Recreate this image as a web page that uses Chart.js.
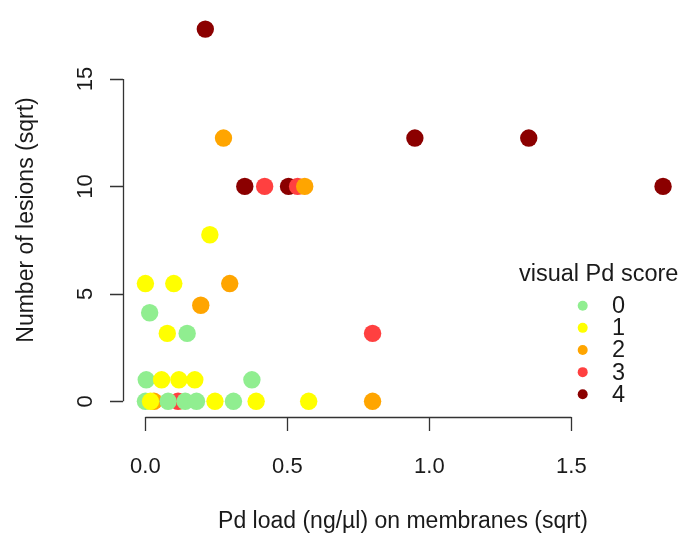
<!DOCTYPE html>
<html>
<head>
<meta charset="utf-8">
<script src="https://cdn.jsdelivr.net/npm/chart.js@4"></script>
<style>
  html, body { margin: 0; padding: 0; background: #fff; }
  #wrap { width: 682px; height: 538px; position: relative; }
</style>
</head>
<body>
<div id="wrap"><canvas id="c"></canvas></div>
<script>
// ---- data (row order = drawing order) ----
const pdLoad  = [0.03, 0.115, 0.0, 0.08, 0.14, 0.18, 0.31, 0.018, 0.245, 0.39, 0.575, 0.80,
                 0.003, 0.057, 0.118, 0.174, 0.375, 0.015, 0.147, 0.077,
                 0.0, 0.10, 0.297, 0.195, 0.227, 0.80,
                 0.35, 0.42, 0.504, 0.536, 0.561, 1.823,
                 0.275, 0.949, 1.35, 0.211];
const lesions = [0, 0, 0, 0, 0, 0, 0, 0, 0, 0, 0, 0,
                 1, 1, 1, 1, 1, 4.12, 3.16, 3.16,
                 5.48, 5.48, 5.48, 4.47, 7.75, 3.16,
                 10, 10, 10, 10, 10, 10,
                 12.25, 12.25, 12.25, 17.32];
const score   = [2, 3, 0, 0, 0, 0, 0, 1, 1, 1, 1, 2,
                 0, 1, 1, 1, 0, 0, 0, 1,
                 1, 1, 2, 2, 1, 3,
                 4, 3, 4, 3, 2, 4,
                 2, 4, 4, 4];
const scoreLabels = ['0', '1', '2', '3', '4'];
const scoreColors = ['#90EE90', '#FFFF00', '#FFA500', '#FF4040', '#8B0000'];
const xTicks = [0, 0.5, 1.0, 1.5];
const xTickLabels = ['0.0', '0.5', '1.0', '1.5'];
const yTicks = [0, 5, 10, 15];
const yTickLabels = ['0', '5', '10', '15'];
const xTitle = 'Pd load (ng/\u00b5l) on membranes (sqrt)';
const yTitle = 'Number of lesions (sqrt)';
const legendTitle = 'visual Pd score';

const points = pdLoad.map((x, i) => ({ x: x, y: lesions[i] }));
const colors = score.map(s => scoreColors[s]);

const FONT = '"Liberation Sans", Arial, sans-serif';
const INK = '#1a1a1a';
const AXIS = '#333333';

const rAxes = {
  id: 'rAxes',
  afterDraw(chart) {
    const ctx = chart.ctx;
    const xs = chart.scales.x, ys = chart.scales.y;
    const area = chart.chartArea;
    const by = area.bottom, lx = area.left;
    ctx.save();
    ctx.strokeStyle = AXIS;
    ctx.lineWidth = 1.3;
    // x axis
    ctx.beginPath();
    ctx.moveTo(xs.getPixelForValue(xTicks[0]), by + 0.5);
    ctx.lineTo(xs.getPixelForValue(xTicks[xTicks.length - 1]), by + 0.5);
    xTicks.forEach(t => {
      const px = Math.round(xs.getPixelForValue(t)) + 0.5;
      ctx.moveTo(px, by);
      ctx.lineTo(px, by + 14);
    });
    ctx.stroke();
    // y axis
    ctx.beginPath();
    ctx.moveTo(lx + 0.5, ys.getPixelForValue(yTicks[0]));
    ctx.lineTo(lx + 0.5, ys.getPixelForValue(yTicks[yTicks.length - 1]));
    yTicks.forEach(t => {
      const py = Math.round(ys.getPixelForValue(t)) + 0.5;
      ctx.moveTo(lx, py);
      ctx.lineTo(lx - 13, py);
    });
    ctx.stroke();

    ctx.fillStyle = INK;
    ctx.font = '22px ' + FONT;
    ctx.textAlign = 'center';
    ctx.textBaseline = 'middle';
    xTicks.forEach((t, i) => {
      ctx.fillText(xTickLabels[i], xs.getPixelForValue(t), by + 50);
    });
    yTicks.forEach((t, i) => {
      ctx.save();
      ctx.translate(lx - 37, ys.getPixelForValue(t));
      ctx.rotate(-Math.PI / 2);
      ctx.fillText(yTickLabels[i], 0, 0);
      ctx.restore();
    });
    // titles
    ctx.font = '23px ' + FONT;
    ctx.fillText(xTitle, 403, by + 105);
    ctx.save();
    ctx.translate(27, 220);
    ctx.rotate(-Math.PI / 2);
    ctx.fillText(yTitle, 0, 0);
    ctx.restore();

    // legend
    ctx.textAlign = 'left';
    ctx.font = '23.5px ' + FONT;
    ctx.fillText(legendTitle, 519, 275);
    scoreLabels.forEach((lab, i) => {
      const cy = 305.7 + i * 22.15;
      ctx.beginPath();
      ctx.fillStyle = scoreColors[i];
      ctx.arc(582.7, cy, 5, 0, Math.PI * 2);
      ctx.fill();
      ctx.fillStyle = INK;
      ctx.fillText(lab, 612, cy + 1);
    });
    ctx.restore();
  }
};

new Chart(document.getElementById('c'), {
  type: 'scatter',
  data: {
    datasets: [{
      label: legendTitle,
      data: points,
      pointBackgroundColor: colors,
      pointBorderWidth: 0,
      pointBorderColor: colors,
      pointRadius: 8.7,
      pointHoverRadius: 8.7,
      clip: false
    }]
  },
  options: {
    responsive: true,
    maintainAspectRatio: false,
    animation: false,
    layout: { autoPadding: false, padding: { left: 123, top: 13, right: 0, bottom: 121 } },
    plugins: { legend: { display: false }, tooltip: { enabled: false } },
    scales: {
      x: { type: 'linear', display: false, min: -0.0789, max: 1.8897 },
      y: { type: 'linear', display: false, min: -0.731, max: 18.07 }
    }
  },
  plugins: [rAxes]
});
</script>
</body>
</html>
